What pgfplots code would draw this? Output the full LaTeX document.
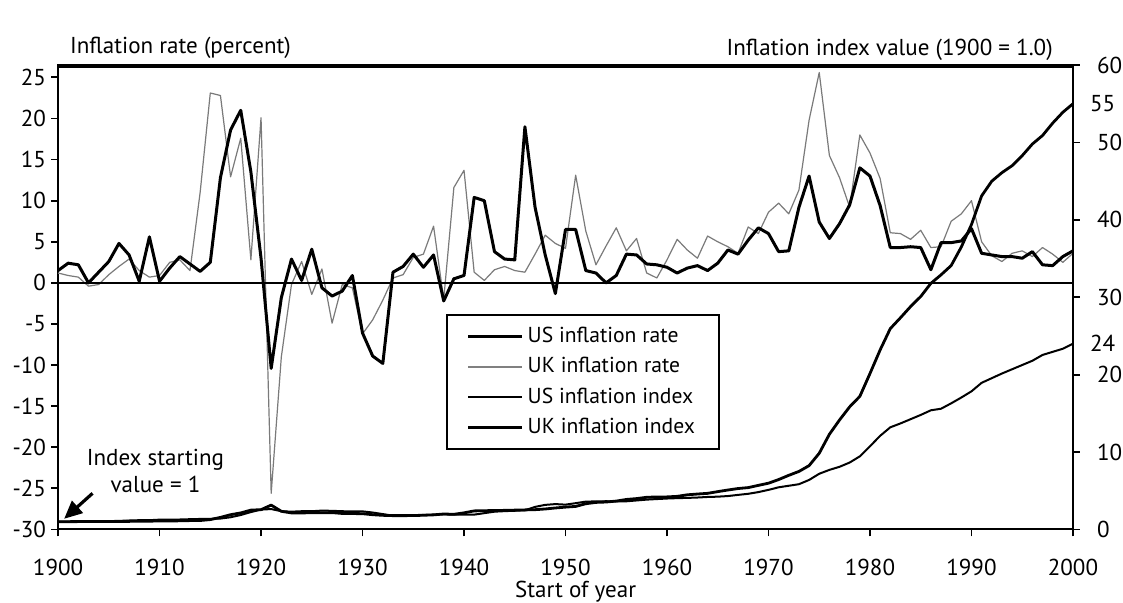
\documentclass[border=0pt]{standalone}
\usepackage{fontspec}
\setmainfont{PT Sans}
\usepackage{pgfplots}
\usepackage{pgfplotstable}
\pgfplotsset{compat=1.18}
\usetikzlibrary{arrows.meta}
\newcommand\chartfont{\fontsize{11.5}{13.5}\selectfont}
\newcommand\legfont{\fontsize{10.8}{13}\selectfont}

\pgfplotstableread{
year us uk
1900 1.5 1.2
1901 2.4 0.9
1902 2.2 0.7
1903 0.0 -0.4
1904 1.3 -0.2
1905 2.6 1.0
1906 4.8 2.0
1907 3.4 2.9
1908 0.2 1.5
1909 5.6 0.7
1910 0.2 0.9
1911 1.8 2.5
1912 3.2 2.8
1913 2.3 1.5
1914 1.4 11.0
1915 2.5 23.1
1916 12.8 22.8
1917 18.6 12.9
1918 21.0 17.6
1919 13.5 2.8
1920 3.0 20.1
1921 -10.4 -25.6
1922 -1.8 -9.0
1923 2.9 -0.2
1924 0.3 2.6
1925 4.1 -1.4
1926 -0.6 1.7
1927 -1.6 -4.9
1928 -1.0 -0.2
1929 0.9 -0.6
1930 -6.1 -6.2
1931 -8.9 -4.5
1932 -9.8 -2.1
1933 1.3 0.6
1934 2.0 1.0
1935 3.5 3.1
1936 1.9 3.5
1937 3.4 6.9
1938 -2.2 -2.0
1939 0.5 11.6
1940 0.9 13.7
1941 10.4 1.3
1942 10.0 0.3
1943 3.8 1.6
1944 2.9 2.0
1945 2.8 1.5
1946 19.0 1.3
1947 9.2 3.5
1948 3.4 5.8
1949 -1.3 4.8
1950 6.5 4.2
1951 6.5 13.1
1952 1.5 6.3
1953 1.2 2.2
1954 0.0 4.5
1955 0.9 6.7
1956 3.5 3.9
1957 3.4 5.4
1958 2.3 1.2
1959 2.2 0.6
1960 1.9 2.8
1961 1.2 5.3
1962 1.8 4.0
1963 2.1 3.0
1964 1.5 5.7
1965 2.4 5.0
1966 4.0 4.4
1967 3.5 3.6
1968 5.2 6.8
1969 6.7 6.0
1970 6.0 8.6
1971 3.8 9.7
1972 3.9 8.4
1973 9.2 11.3
1974 13.0 19.8
1975 7.4 25.6
1976 5.4 15.5
1977 7.2 12.8
1978 9.5 9.2
1979 14.0 18.0
1980 13.0 15.8
1981 9.4 12.7
1982 4.3 6.1
1983 4.3 6.0
1984 4.4 5.3
1985 4.3 6.4
1986 1.6 4.3
1987 4.9 4.4
1988 4.9 7.5
1989 5.1 8.4
1990 6.6 10.0
1991 3.6 5.0
1992 3.4 3.3
1993 3.2 2.6
1994 3.2 3.6
1995 3.0 3.9
1996 3.8 3.2
1997 2.2 4.3
1998 2.1 3.5
1999 3.2 2.5
2000 3.9 3.6
}\ratetable

\pgfplotstableread{
year us uk
1900 1.00 1.00
1901 1.02 1.01
1902 1.04 1.02
1903 1.06 1.02
1904 1.06 1.02
1905 1.08 1.02
1906 1.11 1.03
1907 1.16 1.05
1908 1.20 1.07
1909 1.20 1.08
1910 1.27 1.09
1911 1.27 1.10
1912 1.29 1.12
1913 1.33 1.15
1914 1.36 1.16
1915 1.38 1.28
1916 1.41 1.56
1917 1.58 1.91
1918 1.87 2.14
1919 2.25 2.50
1920 2.57 2.56
1921 2.64 3.15
1922 2.36 2.35
1923 2.30 2.14
1924 2.36 2.13
1925 2.36 2.18
1926 2.44 2.15
1927 2.41 2.18
1928 2.36 2.07
1929 2.33 2.06
1930 2.34 2.04
1931 2.19 1.91
1932 1.99 1.83
1933 1.78 1.79
1934 1.80 1.79
1935 1.82 1.80
1936 1.88 1.84
1937 1.91 1.89
1938 1.96 2.00
1939 1.91 1.96
1940 1.91 2.15
1941 1.92 2.40
1942 2.11 2.43
1943 2.30 2.44
1944 2.37 2.47
1945 2.42 2.50
1946 2.48 2.53
1947 2.92 2.56
1948 3.18 2.65
1949 3.28 2.78
1950 3.21 2.89
1951 3.40 2.98
1952 3.60 3.33
1953 3.63 3.50
1954 3.65 3.55
1955 3.63 3.67
1956 3.64 3.88
1957 3.75 3.99
1958 3.86 4.16
1959 3.93 4.20
1960 4.00 4.21
1961 4.05 4.28
1962 4.08 4.48
1963 4.13 4.58
1964 4.20 4.67
1965 4.24 4.89
1966 4.32 5.10
1967 4.47 5.29
1968 4.61 5.41
1969 4.83 5.70
1970 5.12 5.98
1971 5.45 6.45
1972 5.65 7.00
1973 5.85 7.50
1974 6.40 8.25
1975 7.20 9.85
1976 7.70 12.30
1977 8.10 14.15
1978 8.65 15.85
1979 9.45 17.20
1980 10.75 20.15
1981 12.10 23.20
1982 13.20 25.95
1983 13.70 27.35
1984 14.25 28.80
1985 14.80 30.10
1986 15.40 31.80
1987 15.60 32.90
1988 16.30 34.10
1989 17.05 36.50
1990 17.85 39.40
1991 18.95 43.10
1992 19.55 45.00
1993 20.15 46.10
1994 20.70 47.00
1995 21.25 48.30
1996 21.80 49.80
1997 22.55 50.90
1998 22.95 52.50
1999 23.35 53.90
2000 24.00 55.00
}\indextable

\begin{document}
\begin{tikzpicture}[font=\chartfont]
\path[use as bounding box] (-29pt,-36.5pt) rectangle (532pt,264.5pt);
\begin{axis}[
  scale only axis, width=507pt, height=232pt,
  xmin=1900, xmax=2000, ymin=-30, ymax=26.5,
  xtick={1900,1910,...,2000}, ytick={-30,-25,...,25},
  xticklabels={1900,1910,1920,1930,1940,1950,1960,1970,1980,1990,2000},
  xticklabel style={font=\chartfont, anchor=north, inner ysep=11pt},
  yticklabel style={font=\chartfont, anchor=east, xshift=1pt},
  /pgf/number format/assume math mode=true,
  tick align=outside, xtick pos=bottom, ytick pos=left,
  major tick length=3.5pt,
  axis line style={line width=1pt},
  tick style={black, line width=0.9pt},
  clip=false,
]
\addplot[black!52, line width=0.6pt, line join=round] table[x=year, y=uk] {\ratetable};
\addplot[black, line width=1.5pt, line join=round] table[x=year, y=us] {\ratetable};
\addplot[black, line width=1pt] coordinates {(1900,0) (2000,0)};
\addplot[black, line width=1.4pt] coordinates {(1900,26.35) (2000,26.35)};
\node[anchor=base west] at (rel axis cs:0.005,1) [yshift=6pt] {Inflation rate (percent)};
\node[anchor=base east] at (rel axis cs:0.987,1) [yshift=5pt] {Inflation index value (1900 = 1.0)};
\node at (rel axis cs:0.51,0) [yshift=-31pt] {Start of year};
\node[align=center] at (axis cs:1909.6,-22.9) {Index starting\\value = 1};
\draw[line width=1.6pt, -{Triangle[length=9pt,width=8pt]}] (axis cs:1903.4,-25.6) -- (axis cs:1900.6,-28.7);
\end{axis}
\begin{axis}[
  scale only axis, width=507pt, height=232pt,
  xmin=1900, xmax=2000, ymin=0, ymax=60,
  axis y line*=right, axis x line=none,
  ytick={0,10,...,60},
  extra y ticks={24,55},
  extra y tick style={major tick length=0pt},
  yticklabel style={font=\chartfont, anchor=west, xshift=5pt},
  /pgf/number format/assume math mode=true,
  tick align=outside, major tick length=3.5pt,
  axis line style={line width=1pt},
  tick style={black, line width=0.9pt},
  clip=false,
  legend style={at={(0.382,0.172)}, anchor=south west, draw=black, line width=0.9pt,
    fill=white, font=\legfont, row sep=2pt, inner xsep=10pt, inner ysep=4pt,
    cells={anchor=west}},
  legend cell align=left,
  legend image code/.code={\draw[#1] (0pt,0pt) -- (27pt,0pt);},
]
\addlegendimage{black, line width=1.5pt}
\addlegendentry{US inflation rate}
\addlegendimage{black!50, line width=1.1pt}
\addlegendentry{UK inflation rate}
\addplot[black, line width=1.0pt, line join=round] table[x=year, y=us] {\indextable};
\addlegendentry{US inflation index}
\addplot[black, line width=1.4pt, line join=round] table[x=year, y=uk] {\indextable};
\addlegendentry{UK inflation index}
\end{axis}
\end{tikzpicture}
\end{document}
